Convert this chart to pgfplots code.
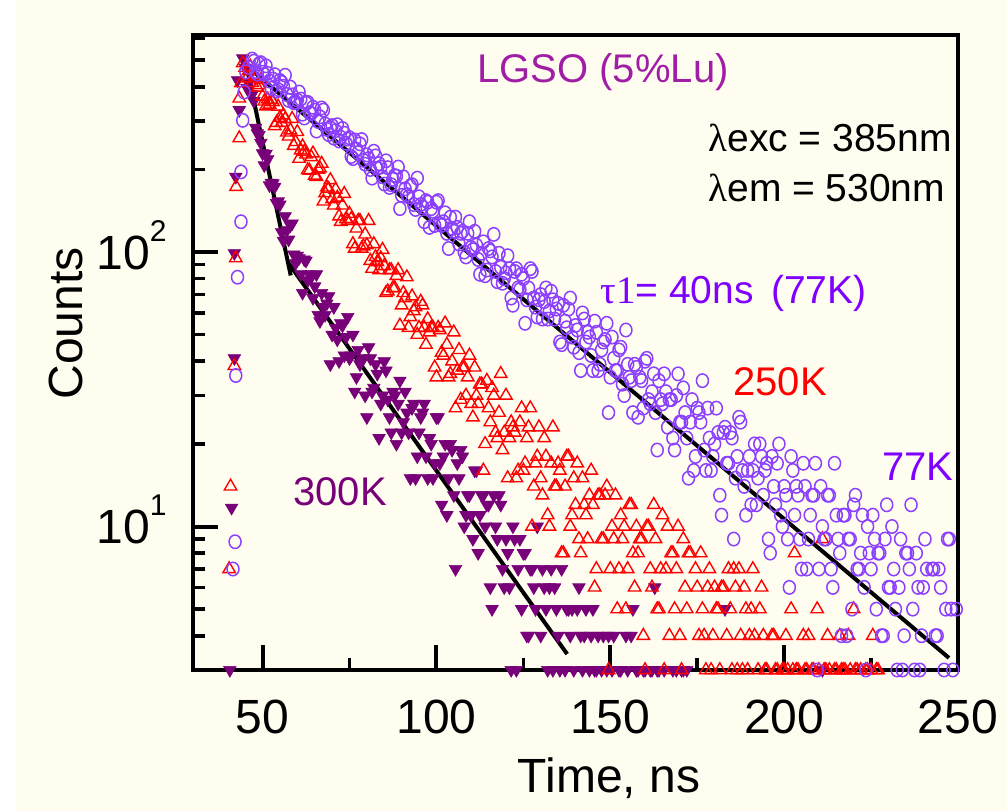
\documentclass[border=0pt]{standalone}
\usepackage{fontspec}
\setmainfont{Liberation Sans}
\newfontfamily\grk{Liberation Serif}
\usepackage{pgfplots}
\pgfplotsset{compat=1.18}
\definecolor{cream}{RGB}{255,253,240}
\definecolor{c77}{RGB}{140,64,255}
\definecolor{t77}{RGB}{127,0,255}
\definecolor{c300}{RGB}{120,0,120}
\definecolor{lgso}{RGB}{160,30,165}
\begin{document}
\begin{tikzpicture}[x=1pt,y=1pt]
\fill[cream] (0,0) rectangle (503.5,405.5);
\fill[white] (0,0) rectangle (8,405.5);
\begin{axis}[at={(96.5pt,70.5pt)}, anchor=south west,
  width=382.5pt, height=317.5pt, scale only axis,
  xmin=30, xmax=250, ymode=log, ymin=3, ymax=618, clip=false,
  axis line style={line width=2pt},
  tick align=inside, xtick pos=bottom, ytick pos=left,
  xtick={50,100,150,200,250}, xticklabels={50,100,150,200,250},
  minor xtick={75,125,175,225},
  ytick={10,100},
  yticklabels={{10\raisebox{14pt}{\fontsize{15}{15}\selectfont 1}},{10\raisebox{14pt}{\fontsize{15}{15}\selectfont 2}}},
  minor ytick={4,5,6,7,8,9,20,30,40,50,60,70,80,90,200,300,400,500,600},
  major tick length=12.5pt, minor tick length=6pt,
  major tick style={line width=2pt, black},
  minor tick style={line width=1.8pt, black},
  ticklabel style={font=\fontsize{24}{24}\selectfont, inner sep=0pt},
  xticklabel style={anchor=north, yshift=-15pt},
  yticklabel style={anchor=base east, xshift=-13pt, yshift=-8.6pt},
]
% 300K
\addplot[only marks, mark=triangle*, mark size=3.6pt, color=c300,
  mark options={rotate=180, fill=c300, draw=c300, line width=0.3pt}] coordinates {
(40.6,3)(41.1,11.7)(41.9,41)(41.9,99)(42.3,188)(42.8,423)(43.3,329)(44.3,508)
(45,470)(46,412)(47,375)(48,284)(49,267)(50,229)(51,228)(52,175)(53,178)(54,151)
(55,149)(56,110)(57,120)(58,125)(59,98)(60,97)(61,83)(62,94)(63,79)(64,81)
(65,75)(66,59)(67,71)(68,59)(69,69)(70,50)(71,53)(72,40)(73,54)(74,49)
(75,41)(76,50)(77,35)(78,39)(79,41)(80,25)(81,41)(82,32)(83,36)(84,28)
(85,40)(86,29)(87,22)(88,30)(89,28)(90,22)(91,31)(92,22)(93,27)(94,15)
(95,22)(96,26)(97,18)(98,21)(99,15)(100,25)(101,17)(102,18)(103,11)(104,20)
(105,13)(106,17)(107,19)(108,10)(109,13)(110,11)(111,16)(112,8)(113,13)(114,10)
(115,12)(116,5)(117,10)(118,13)(119,7)(120,9)(121,6)(122,10)(123,3)(124,9)
(125,8)(126,4)(127,7)(128,6)(129,10)(130,4)(131,6)(132,3)(133,7)(134,6)
(135,4)(136,7)(137,3)(138,5)(139,5)(141,6)(142,3)(143,5)(144,3)(145,5)
(146,3)(148,4)(149,3)(151,4)(153,3)(155,3)(156,4)(156.5,5)(158,3)(160,3)
(162,3)(162.8,6)(164,3)(168,3)(169,3)(171,3)(172,3)(183,5)(211,3)
(45.5,397)(46.5,377)(47.5,355)(48.5,271)(49.5,250)(50.5,207)(51.5,218)(52.5,179)(53.5,173)(54.5,153)
(55.5,118)(56.5,135)(57.5,111)(58.5,127)(59.5,91)(60.5,95)(61.5,71)(62.5,93)(63.5,83)(64.5,68)
(65.5,83)(66.5,56)(67.5,63)(68.5,65)(69.5,39)(70.5,63)(71.5,48)(72.5,55)(73.5,42)(74.5,58)
(75.5,42)(76.5,31)(77.5,44)(78.5,40)(79.5,30)(80.5,45)(81.5,31)(82.5,39)(83.5,21)(84.5,30)
(85.5,37)(86.5,25)(87.5,31)(88.5,20)(89.5,34)(90.5,24)(91.5,26)(92.5,15)(93.5,28)(94.5,18)
(95.5,25)(96.5,28)(97.5,15)(98.5,20)(99.5,17)(100.5,25)(101.5,12)(102.5,20)(103.5,15)(104.5,19)
(105.5,7)(106.5,15)(107.5,18)(108.5,11)(109.5,13)(110.5,9)(111.5,16)(112.5,11)(113.5,13)(114.5,12)
(115.5,6)(116.5,13)(117.5,9)(118.5,12)(119.5,6)(120.5,8)(121.5,3)(122.5,9)(123.5,7)(124.5,5)
(125.5,8)(126.5,4)(127.5,7)(128.5,5)(130.5,7)(131.5,5)(132.5,6)(133.5,3)(134.5,5)(135.5,3)
(137.5,5)(138.5,4)(139.5,3)(140.5,5)(141.5,4)(142.5,4)(144.5,4)(145.5,3)(146.5,4)(147.5,3)
(149.5,4)(150.5,3)(152.5,3)(154.5,4)(157.5,3)(159.5,3)(161.5,3)(163.5,3)(165.5,3)(170.5,3)
};
% 250K
\addplot[only marks, mark=triangle, mark size=3.6pt, color=red,
  mark options={line width=0.7pt}] coordinates {
(40.4,7)(40.8,14)(41.9,38.5)(42.3,95)(42.4,173)(43.3,260)(43.3,363)(43.8,413)(44.3,488)
(45,470)(46,457)(47,414)(48,430)(49,406)(50,369)(51,340)(52,345)(53,352)(54,296)
(55,309)(56,315)(57,273)(58,278)(59,244)(60,274)(61,235)(62,232)(63,199)(64,222)
(65,190)(66,200)(67,210)(68,164)(69,170)(70,156)(71,169)(72,135)(73,148)(74,132)
(75,138)(76,107)(77,122)(78,130)(79,105)(80,106)(81,93)(82,107)(83,92)(84,95)
(85,89)(86,72)(87,86)(88,74)(89,86)(90,64)(91,68)(92,53)(93,69)(94,63)
(95,53)(96,64)(97,46)(98,51)(99,53)(100,35)(101,52)(102,42)(103,46)(104,36)
(105,51)(106,37)(107,29)(108,38)(109,35)(110,28)(111,38)(112,28)(113,33)(114,20)
(115,27)(116,32)(117,22)(118,26)(119,19)(120,30)(121,21)(122,23)(123,15)(124,24)
(125,16)(126,21)(127,27)(128,14)(129,18)(130,15)(131,21)(132,11)(133,17)(134,14)
(135,17)(136,8)(137,14)(138,18)(139,11)(140,12)(141,9)(142,15)(143,11)(144,13)
(145,12)(146,7)(147,13)(148,9)(149,14)(150,7)(151,9)(152,5)(153,11)(154,10)
(155,7)(156,12)(157,6)(158,8)(159,9)(160,3)(161,10)(162,6)(163,9)(164,5)
(165,11)(166,7)(167,4)(168,8)(169,7)(170,4)(171,9)(172,5)(173,8)(175,6)
(176,8)(177,4)(178,6)(179,3)(180,6)(181,5)(182,6)(184,7)(185,3)(186,6)
(187,7)(188,3)(189,5)(190,4)(191,7)(193,5)(194,4)(195,3)(197,4)(198,3)
(200,3)(201,3)(202,5)(203,8)(204,3)(206,3)(207,4)(208,3)(210,3)(211,9)
(212,3)(213,3)(215,3)(216,4)(217,3)(219,3)(220,5)(221,3)(222,3)(224,3)
(225,3)(227,3)
(45.5,430)(46.5,474)(47.5,440)(48.5,398)(49.5,424)(50.5,354)(51.5,360)(52.5,359)(53.5,288)(54.5,339)
(55.5,296)(56.5,305)(57.5,264)(58.5,306)(59.5,252)(60.5,219)(61.5,243)(62.5,227)(63.5,198)(64.5,229)
(65.5,188)(66.5,202)(67.5,153)(68.5,172)(69.5,183)(70.5,148)(71.5,158)(72.5,129)(73.5,163)(74.5,130)
(75.5,132)(76.5,103)(77.5,130)(78.5,103)(79.5,116)(80.5,130)(81.5,87)(82.5,96)(83.5,86)(84.5,102)
(85.5,71)(86.5,86)(87.5,74)(88.5,82)(89.5,54)(90.5,71)(91.5,81)(92.5,58)(93.5,61)(94.5,50)
(95.5,66)(96.5,53)(97.5,57)(98.5,53)(99.5,38)(100.5,53)(101.5,43)(102.5,55)(103.5,35)(104.5,40)
(105.5,27)(106.5,44)(107.5,38)(108.5,30)(109.5,42)(110.5,25)(111.5,30)(112.5,33)(113.5,16)(114.5,34)
(115.5,24)(116.5,30)(117.5,21)(118.5,36)(119.5,22)(120.5,15)(121.5,24)(122.5,22)(123.5,16)(124.5,27)
(125.5,17)(126.5,23)(127.5,10)(128.5,17)(129.5,23)(130.5,13)(131.5,18)(132.5,10)(133.5,23)(134.5,14)
(135.5,16)(136.5,8)(137.5,18)(138.5,10)(139.5,15)(140.5,17)(141.5,8)(142.5,12)(143.5,9)(144.5,16)
(145.5,6)(146.5,13)(147.5,9)(148.5,13)(149.5,3)(150.5,10)(151.5,13)(152.5,7)(153.5,9)(154.5,5)
(155.5,12)(156.5,8)(157.5,10)(158.5,9)(159.5,4)(160.5,10)(161.5,7)(162.5,12)(163.5,5)(164.5,7)
(165.5,3)(166.5,10)(167.5,8)(168.5,5)(169.5,10)(170.5,3)(171.5,6)(172.5,8)(174.5,7)(175.5,4)
(176.5,5)(177.5,3)(178.5,7)(179.5,4)(180.5,5)(181.5,3)(182.5,6)(183.5,4)(184.5,5)(185.5,7)
(186.5,3)(187.5,4)(188.5,6)(189.5,3)(190.5,5)(191.5,4)(192.5,3)(193.5,6)(194.5,3)(196.5,4)
(197.5,3)(199.5,3)(200.5,4)(202.5,3)(203.5,3)(205.5,4)(206.5,3)(208.5,3)(209.5,5)(211.5,3)
(212.5,4)(214.5,3)(216.5,3)(217.5,3)(218.5,4)(220.5,3)(223.5,3)(225.5,4)(226.5,3)
};
% 77K
\addplot[only marks, mark=o, mark size=3pt, color=c77,
  mark options={line width=0.75pt, yscale=1.12}] coordinates {
(41.5,7)(42.1,8.8)(42.3,35.5)(42.8,81)(43.8,129)(43.8,196)(44.3,302)(44.7,383)(45.2,454)(46.1,470)(47,505)
(48,455)(49,485)(50,452)(51,477)(52,420)(53,427)(54,386)(55,422)(56,402)(57,375)
(58,399)(59,350)(60,358)(61,361)(62,308)(63,351)(64,320)(65,329)(66,299)(67,335)
(68,293)(69,268)(70,289)(71,277)(72,254)(73,282)(74,249)(75,261)(76,219)(77,237)
(78,248)(79,216)(80,226)(81,200)(82,233)(83,202)(84,204)(85,177)(86,203)(87,176)
(88,190)(89,204)(90,161)(91,170)(92,159)(93,176)(94,143)(95,159)(96,146)(97,154)
(98,123)(99,141)(100,152)(101,127)(102,129)(103,117)(104,134)(105,119)(106,123)(107,117)
(108,100)(109,117)(110,104)(111,119)(112,94)(113,99)(114,82)(115,103)(116,96)(117,85)
(118,99)(119,77)(120,84)(121,87)(122,64)(123,87)(124,73)(125,80)(126,67)(127,87)
(128,68)(129,58)(130,70)(131,66)(132,57)(133,72)(134,57)(135,65)(136,46)(137,56)
(138,62)(139,49)(140,54)(141,43)(142,60)(143,47)(144,49)(145,37)(146,51)(147,39)
(148,47)(149,55)(150,35)(151,41)(152,37)(153,45)(154,30)(155,39)(156,34)(157,39)
(158,25)(159,34)(160,40)(161,29)(162,31)(163,26)(164,34)(165,28)(166,31)(167,29)
(168,21)(169,30)(170,24)(171,32)(172,21)(173,24)(174,16)(175,27)(176,24)(177,19)
(178,27)(179,16)(180,20)(181,22)(182,11)(183,23)(184,17)(185,21)(186,15)(187,25)
(188,16)(189,11)(190,18)(191,16)(192,12)(193,20)(194,13)(195,17)(196,8)(197,14)
(198,17)(199,11)(200,14)(201,9)(202,18)(203,11)(204,13)(205,7)(206,14)(207,9)
(208,13)(209,17)(210,7)(211,10)(212,9)(213,13)(214,6)(215,11)(216,8)(217,11)
(218,4)(219,9)(220,12)(221,7)(222,8)(223,6)(224,10)(225,7)(226,9)(227,8)
(228,4)(229,9)(230,6)(231,10)(232,5)(233,6)(234,3)(235,8)(236,7)(237,5)
(238,8)(239,3)(240,6)(241,7)(243,7)(244,4)(245,6)(246,3)(247,9)(248,5)
(47.5,496)(48.5,445)(49.5,490)(50.5,444)(51.5,448)(52.5,395)(53.5,443)(54.5,391)(55.5,415)(56.5,441)
(57.5,357)(58.5,374)(59.5,352)(60.5,383)(61.5,318)(62.5,349)(63.5,322)(64.5,337)(65.5,276)(66.5,311)
(67.5,329)(68.5,280)(69.5,284)(70.5,260)(71.5,291)(72.5,262)(73.5,271)(74.5,258)(75.5,223)(76.5,256)
(77.5,230)(78.5,257)(79.5,209)(80.5,219)(81.5,186)(82.5,224)(83.5,210)(84.5,188)(85.5,215)(86.5,172)
(87.5,184)(88.5,189)(89.5,144)(90.5,188)(91.5,162)(92.5,174)(93.5,149)(94.5,186)(95.5,149)(96.5,129)
(97.5,152)(98.5,144)(99.5,125)(100.5,154)(101.5,125)(102.5,139)(103.5,103)(104.5,122)(105.5,134)(106.5,107)
(107.5,119)(108.5,96)(109.5,129)(110.5,102)(111.5,106)(112.5,83)(113.5,109)(114.5,86)(115.5,101)(116.5,116)
(117.5,78)(118.5,88)(119.5,80)(120.5,97)(121.5,68)(122.5,85)(123.5,74)(124.5,83)(125.5,55)(126.5,74)
(127.5,85)(128.5,63)(129.5,67)(130.5,57)(131.5,74)(132.5,61)(133.5,67)(134.5,62)(135.5,47)(136.5,64)
(137.5,53)(138.5,68)(139.5,45)(140.5,52)(141.5,37)(142.5,57)(143.5,51)(144.5,42)(145.5,56)(146.5,37)
(147.5,44)(148.5,48)(149.5,26)(150.5,49)(151.5,37)(152.5,44)(153.5,33)(154.5,52)(155.5,35)(156.5,26)
(157.5,38)(158.5,35)(159.5,27)(160.5,41)(161.5,28)(162.5,36)(163.5,19)(164.5,29)(165.5,36)(166.5,23)
(167.5,29)(168.5,19)(169.5,36)(170.5,24)(171.5,26)(172.5,15)(173.5,29)(174.5,18)(175.5,26)(176.5,34)
(177.5,16)(178.5,21)(179.5,18)(180.5,27)(181.5,13)(182.5,22)(183.5,17)(184.5,22)(185.5,9)(186.5,18)
(187.5,24)(188.5,14)(189.5,16)(190.5,12)(191.5,20)(192.5,15)(193.5,18)(194.5,16)(195.5,9)(196.5,18)
(197.5,12)(198.5,20)(199.5,10)(200.5,13)(201.5,6)(202.5,16)(203.5,14)(204.5,9)(205.5,17)(206.5,7)
(207.5,11)(208.5,13)(209.5,3)(210.5,14)(211.5,9)(212.5,13)(213.5,7)(214.5,17)(215.5,9)(216.5,4)
(217.5,11)(218.5,9)(219.5,5)(220.5,13)(221.5,7)(222.5,11)(223.5,3)(224.5,8)(225.5,11)(226.5,5)
(227.5,8)(228.5,4)(229.5,12)(230.5,6)(231.5,7)(232.5,3)(233.5,9)(234.5,4)(235.5,8)(236.5,12)
(237.5,3)(238.5,6)(239.5,4)(240.5,9)(242.5,7)(243.5,4)(244.5,7)(246.5,5)(247.5,9)(248.5,3)(249.5,5)
};
% fits
\addplot[black, line width=2pt, no marks] coordinates {(47.5,453)(247.4,3.32)};
\addplot[black, line width=2pt, no marks] coordinates {(45.2,489)(58.1,82.2)};
\addplot[black, line width=2pt, no marks] coordinates {(57.5,91)(137.6,3.43)};
\end{axis}
\node[anchor=base west, inner sep=0pt, text=lgso, font=\fontsize{20}{20}\selectfont] at (238.5,364) {LGSO (5\%Lu)};
\node[anchor=base west, inner sep=0pt, font=\fontsize{19.5}{19.5}\selectfont] at (354,329.6) {{\grk λ}exc = 385nm};
\node[anchor=base west, inner sep=0pt, font=\fontsize{19.5}{19.5}\selectfont] at (354,304.6) {{\grk λ}em = 530nm};
\node[anchor=base west, inner sep=0pt, text=t77, font=\fontsize{19.5}{19.5}\selectfont] at (300,253.8) {{\grk τ1}= 40ns\hspace{0.45em}(77K)};
\node[anchor=base west, inner sep=0pt, text=red, font=\fontsize{20}{20}\selectfont] at (366.5,207.7) {250K};
\node[anchor=base west, inner sep=0pt, text=t77, font=\fontsize{20}{20}\selectfont] at (441,165.5) {77K};
\node[anchor=base west, inner sep=0pt, text=c300, font=\fontsize{20}{20}\selectfont] at (146.5,153) {300K};
\node[rotate=90, inner sep=0pt, font=\fontsize{24}{24}\selectfont] at (33.2,243.75) {Counts};
\node[anchor=base, inner sep=0pt, font=\fontsize{24}{24}\selectfont] at (304.5,9.5) {Time, ns};
\end{tikzpicture}
\end{document}
